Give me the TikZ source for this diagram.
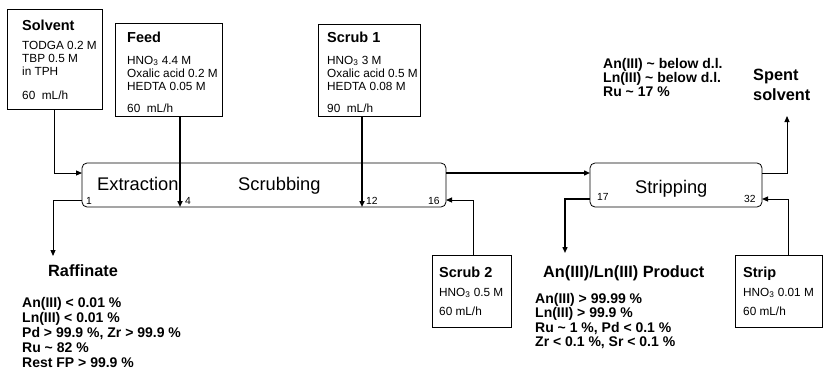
\documentclass[tikz,border=0pt]{standalone}
\usepackage{fontspec}
\setmainfont{Liberation Sans}
\usetikzlibrary{arrows.meta}
\begin{document}
\begin{tikzpicture}[x=1pt,y=-1pt,
  box/.style={draw, line width=0.7pt, anchor=north west, inner sep=0pt},
  proc/.style={draw, rounded corners=5pt, line width=0.8pt, inner sep=0pt},
  ttl/.style={anchor=base west, inner sep=0pt, font=\bfseries\fontsize{14.5}{16}\selectfont},
  txt/.style={anchor=base west, inner sep=0pt, font=\fontsize{11.8}{13}\selectfont},
  res/.style={anchor=base west, inner sep=0pt, font=\bfseries\fontsize{14}{15}\selectfont},
  big/.style={anchor=base west, inner sep=0pt, font=\bfseries\fontsize{16.3}{19}\selectfont},
  pname/.style={anchor=base west, inner sep=0pt, font=\fontsize{18.3}{20}\selectfont},
  num/.style={anchor=base west, inner sep=0pt, font=\fontsize{10.3}{12}\selectfont},
  conn/.style={line width=1pt, -{Triangle[length=6pt,width=5pt]}},
  thick conn/.style={line width=1.8pt, -{Triangle[length=6pt,width=5pt]}},
]
\useasboundingbox (0,0) rectangle (823,378);

% process boxes
\node[proc, minimum width=364pt, minimum height=44pt] (ext) at (264,185) {};
\node[proc, minimum width=172pt, minimum height=44pt] (strp) at (676,185) {};
\node[pname] (extT) at (97,190) {Extraction};
\node[pname] (scrT) at (238,190) {Scrubbing};
\node[pname] (strT) at (635,193) {Stripping};
\node[num] (n1) at (86,204.6) {1};
\node[num] (n4) at (185,204.6) {4};
\node[num] (n12) at (366,204.6) {12};
\node[num] (n16) at (428,204.6) {16};
\node[num] (n17) at (597,200.6) {17};
\node[num] (n32) at (744,202.6) {32};

% input boxes
\node[box, minimum width=95pt, minimum height=100pt] (solv) at (7,9) {};
\node[ttl] (solvT) at (22,30) {Solvent};
\node[txt] (solv1) at (22,49) {TODGA 0.2 M};
\node[txt] (solv2) at (22,62) {TBP 0.5 M};
\node[txt] (solv3) at (22,75) {in TPH};
\node[txt] (solv4) at (22,99) {60\ \ mL/h};

\node[box, minimum width=107pt, minimum height=93pt] (feed) at (115,23) {};
\node[ttl] (feedT) at (127,42) {Feed};
\node[txt] (feed1) at (127,64) {HNO\textsubscript{3} 4.4 M};
\node[txt] (feed2) at (127,77) {Oxalic acid 0.2 M};
\node[txt] (feed3) at (127,90) {HEDTA 0.05 M};
\node[txt] (feed4) at (127,112) {60\ \ mL/h};

\node[box, minimum width=102pt, minimum height=92pt] (scr1) at (318,24) {};
\node[ttl] (scr1T) at (327,42) {Scrub 1};
\node[txt] (scr11) at (327,64) {HNO\textsubscript{3} 3 M};
\node[txt] (scr12) at (327,77) {Oxalic acid 0.5 M};
\node[txt] (scr13) at (327,90) {HEDTA 0.08 M};
\node[txt] (scr14) at (327,112) {90\ \ mL/h};

\node[box, minimum width=79pt, minimum height=72pt] (scr2) at (432,255) {};
\node[ttl] (scr2T) at (439,277) {Scrub 2};
\node[txt] (scr21) at (439,296) {HNO\textsubscript{3} 0.5 M};
\node[txt] (scr22) at (439,315) {60 mL/h};

\node[box, minimum width=87pt, minimum height=72pt] (strip) at (735,255) {};
\node[ttl] (stripT) at (743,277) {Strip};
\node[txt] (strip1) at (743,296) {HNO\textsubscript{3} 0.01 M};
\node[txt] (strip2) at (743,315) {60 mL/h};

% outputs
\node[big] (rafT) at (48,276.5) {Raffinate};
\node[res] (raf1) at (22,307) {An(III) < 0.01 \%};
\node[res] (raf2) at (22,322) {Ln(III) < 0.01 \%};
\node[res] (raf3) at (22,337) {Pd > 99.9 \%, Zr > 99.9 \%};
\node[res] (raf4) at (22,352) {Ru \textasciitilde{} 82 \%};
\node[res] (raf5) at (22,367) {Rest FP > 99.9 \%};

\node[big] (prodT) at (543,277.5) {An(III)/Ln(III) Product};
\node[res] (prod1) at (535,303) {An(III) > 99.99 \%};
\node[res] (prod2) at (535,317.5) {Ln(III) > 99.9 \%};
\node[res] (prod3) at (535,332) {Ru \textasciitilde{} 1 \%, Pd < 0.1 \%};
\node[res] (prod4) at (535,346.5) {Zr < 0.1 \%, Sr < 0.1 \%};

\node[res] (sp1) at (603,68) {An(III) \textasciitilde{} below d.l.};
\node[res] (sp2) at (603,82) {Ln(III) \textasciitilde{} below d.l.};
\node[res] (sp3) at (603,96) {Ru \textasciitilde{} 17 \%};
\node[big] (spT1) at (753,80.5) {Spent};
\node[big] (spT2) at (753,100.5) {solvent};

% connector end points
\coordinate (solvIn) at (82,173);
\coordinate (in4) at (180,207);
\coordinate (in12) at (362,207);
\coordinate (rafOut) at (53,256);
\coordinate (scr2In) at (446,200);
\coordinate (extOut) at (446,173);
\coordinate (strIn) at (590,173);
\coordinate (spOut) at (787,116);
\coordinate (prodOut) at (565,253);
\coordinate (stripIn) at (762,199);

% connectors
\draw[conn] (solv.south) |- (solvIn);
\draw[thick conn] (feed.south -| in4) -- (in4);
\draw[thick conn] (scr1.south -| in12) -- (in12);
\draw[conn] (ext.west |- 0,200) -| (rafOut);
\draw[conn] (scr2.north -| 473,0) |- (scr2In);
\draw[line width=1.4pt, -{Triangle[length=6pt,width=5pt]}] (extOut) -- (strIn);
\draw[conn] (strp.east |- 0,173) -| (spOut);
\draw[line width=1.4pt, -{Triangle[length=6pt,width=5pt]}] (strp.west |- 0,199) -| (prodOut);
\draw[conn] (strip.north -| 788,0) |- (stripIn);
\end{tikzpicture}
\end{document}
